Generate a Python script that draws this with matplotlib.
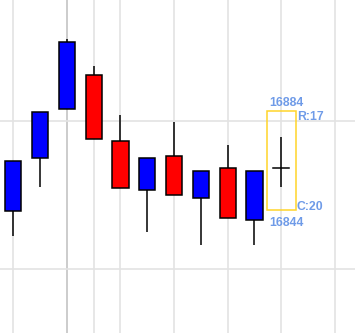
import matplotlib
matplotlib.use("Agg")
import matplotlib.pyplot as plt
from matplotlib.patches import Rectangle

# ── Candle data ───────────────────────────────────────────────────────────────
opens  = [16843.7, 16865.0, 16884.8, 16898.6, 16871.8, 16852.0, 16865.9, 16848.7, 16860.9, 16839.8, 16860.9]
highs  = [16863.7, 16883.6, 16913.2, 16902.4, 16882.5, 16865.0, 16879.7, 16859.8, 16870.3, 16859.8, 16873.5]
lows   = [16833.6, 16853.4, 16884.8, 16872.6, 16852.8, 16835.0, 16850.0, 16829.7, 16840.6, 16829.7, 16853.4]
closes = [16863.7, 16883.6, 16912.0, 16872.6, 16852.8, 16865.0, 16850.0, 16859.8, 16840.6, 16859.8, 16860.9]

grid_x     = [0, 2, 3, 4, 6, 8, 10, 12]   # time grid (index 2 = session break)
grid_dark  = [2]
grid_y     = [16820, 16880]

range_top, range_bottom = 16884, 16844
range_labels = ["R:17", "C:20"]

UP_COLOR   = "#0000ff"
DOWN_COLOR = "#ff0000"
LABEL_COLOR = "#6f9be8"
BOX_COLOR   = "#ffd42a"

fig = plt.figure(figsize=(3.55, 3.33), dpi=100)
ax = fig.add_axes([0, 0, 1, 1])
ax.set_xlim(-0.496, 12.75)
ax.set_ylim(16794.1, 16929.1)
ax.axis("off")

# ── Grid ──────────────────────────────────────────────────────────────────────
for gx in grid_x:
    c = "#c4c4c4" if gx in grid_dark else "#e3e3e3"
    ax.axvline(gx, color=c, lw=1.2, zorder=0)
for gy in grid_y:
    ax.axhline(gy, color="#e3e3e3", lw=1.2, zorder=0)

# ── Candles ───────────────────────────────────────────────────────────────────
w = 0.6
for i, (o, h, l, c) in enumerate(zip(opens, highs, lows, closes)):
    ax.plot([i, i], [l, h], color="black", lw=1.1, zorder=2, solid_capstyle="butt")
    if abs(c - o) < 0.01:
        ax.plot([i - w / 2, i + w / 2], [o, o], color="black", lw=1.1, zorder=3)
        continue
    col = UP_COLOR if c > o else DOWN_COLOR
    ax.add_patch(Rectangle((i - w / 2, min(o, c)), w, abs(c - o),
                           facecolor=col, edgecolor="black", lw=1.1, zorder=3))

# ── Range box on the last candle ──────────────────────────────────────────────
last = len(opens) - 1
bx0, bx1 = last - 0.52, last + 0.56
ax.add_patch(Rectangle((bx0, range_bottom), bx1 - bx0, range_top - range_bottom,
                       facecolor="none", edgecolor=BOX_COLOR, lw=1.1, zorder=4))
lab = dict(color=LABEL_COLOR, fontsize=8.8, fontweight="bold", family="Liberation Sans",
           va="center")
ax.text(last + 0.2, range_top + 3.4, str(range_top), ha="center", **lab)
ax.text(last + 0.2, range_bottom - 5.2, str(range_bottom), ha="center", **lab)
ax.text(bx1 + 0.02, range_top - 2.4, range_labels[0], ha="left", **lab)
ax.text(bx1 + 0.02, range_bottom + 1.3, range_labels[1], ha="left", **lab)

fig.savefig("out.png", dpi=100)
